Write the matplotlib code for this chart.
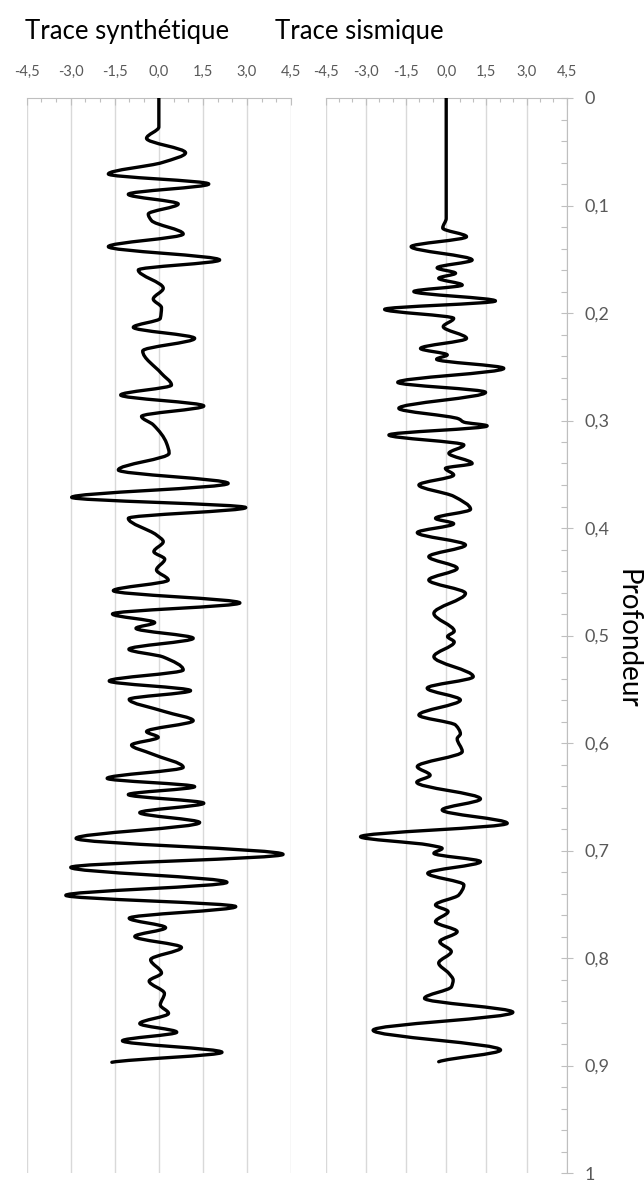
import numpy as np
import matplotlib
matplotlib.use("Agg")
import matplotlib.pyplot as plt
from matplotlib.path import Path
from matplotlib.patches import PathPatch
from matplotlib.ticker import MultipleLocator, FixedLocator, FuncFormatter

plt.rcParams['font.family'] = ['Lato', 'DejaVu Sans']

# ---- data (depth, amplitude at turning points) ----
synth_depth = [0.000, 0.027, 0.0375, 0.051, 0.060, 0.0707, 0.080, 0.0896, 0.0986, 0.108,
               0.114, 0.1265, 0.1383, 0.1507, 0.160, 0.177, 0.187, 0.195, 0.205, 0.2133,
               0.2236, 0.2353, 0.256, 0.267, 0.2763, 0.2865, 0.2962, 0.304, 0.321, 0.3305,
               0.346, 0.3585, 0.3715, 0.381, 0.391, 0.4065, 0.4127, 0.422, 0.429, 0.439,
               0.4484, 0.4583, 0.4697, 0.480, 0.488, 0.4933, 0.5026, 0.5128, 0.520, 0.532,
               0.5423, 0.5513, 0.5594, 0.5708, 0.5792, 0.5894, 0.5947, 0.6019, 0.610, 0.6226,
               0.6329, 0.6406, 0.648, 0.656, 0.6648, 0.674, 0.6887, 0.7036, 0.7157, 0.7296,
               0.7417, 0.7522, 0.763, 0.7718, 0.780, 0.7902, 0.8016, 0.814, 0.8215, 0.833,
               0.8437, 0.8515, 0.861, 0.869, 0.877, 0.8877, 0.897]
synth_amp = [0.00, 0.00, -0.42, 0.91, 0.12, -1.72, 1.70, -1.04, 0.66, -0.36,
             -0.25, 0.83, -1.72, 2.07, -0.70, 0.15, -0.19, 0.09, 0.05, -0.87,
             1.22, -0.55, 0.08, 0.43, -1.30, 1.53, -0.59, -0.19, 0.26, 0.35,
             -1.38, 2.36, -2.97, 2.96, -1.04, -0.08, 0.15, -0.17, 0.20, -0.08,
             0.32, -1.55, 2.76, -1.58, -0.14, -0.78, 1.17, -1.02, 0.15, 0.83,
             -1.69, 1.08, -1.01, 0.20, 1.17, -0.42, -0.02, -0.93, -0.25, 0.83,
             -1.76, 1.22, -1.04, 1.53, -0.65, 1.39, -2.82, 4.23, -3.00, 2.32,
             -3.17, 2.62, -1.01, 0.23, -0.82, 0.77, -0.28, 0.09, -0.33, 0.19,
             0.05, 0.33, -0.65, 0.61, -1.24, 2.15, -1.60]

seis_depth = [0.000, 0.112, 0.121, 0.129, 0.1383, 0.1507, 0.158, 0.163, 0.1677, 0.174,
              0.180, 0.1888, 0.1966, 0.205, 0.2127, 0.2236, 0.233, 0.239, 0.243, 0.2515,
              0.2645, 0.2738, 0.2887, 0.2985, 0.3015, 0.305, 0.3135, 0.3228, 0.3305, 0.340,
              0.3445, 0.3507, 0.360, 0.3705, 0.3826, 0.391, 0.396, 0.4043, 0.4158, 0.4267,
              0.4375, 0.4484, 0.4608, 0.4794, 0.496, 0.501, 0.506, 0.5197, 0.5383, 0.549,
              0.560, 0.574, 0.5833, 0.5915, 0.596, 0.608, 0.622, 0.630, 0.6365, 0.652,
              0.6623, 0.6747, 0.6872, 0.6949, 0.698, 0.7026, 0.7104, 0.7212, 0.732, 0.7414,
              0.7507, 0.7568, 0.7662, 0.7755, 0.7848, 0.794, 0.8047, 0.8143, 0.8205, 0.8267,
              0.8375, 0.8505, 0.8672, 0.8856, 0.8965]
seis_amp = [0.00, 0.00, -0.13, 0.76, -1.31, 0.97, -0.34, 0.35, -0.28, 0.60,
            -1.21, 1.84, -2.30, 0.28, -0.11, 0.76, -0.96, 0.04, -0.36, 2.15,
            -1.81, 1.47, -1.77, 0.47, 0.66, 1.53, -2.14, 0.66, 0.10, 0.97,
            -0.03, 0.28, -1.02, 0.28, 0.91, -0.40, 0.28, -1.08, 0.72, -0.65,
            0.41, -0.65, 0.72, -0.46, 0.30, 0.05, 0.30, -0.46, 1.01, -0.71,
            0.53, -1.02, 0.35, 0.53, 0.41, 0.60, -1.08, -0.60, -1.10, 1.28,
            -0.15, 2.28, -3.20, -0.65, -0.15, -0.46, 1.28, -0.69, 0.66, 0.47,
            -0.40, 0.07, -0.40, 0.41, -0.24, 0.19, -0.28, 0.10, 0.26, 0.20,
            -0.81, 2.49, -2.73, 2.03, -0.28]

amp_ticks = [-4.5, -3.0, -1.5, 0.0, 1.5, 3.0, 4.5]
depth_ticks = [0, 0.1, 0.2, 0.3, 0.4, 0.5, 0.6, 0.7, 0.8, 0.9, 1.0]
titles = ["Trace synthétique", "Trace sismique"]
depth_label = "Profondeur"


def smooth_path(depth, amp):
    """Excel-like smoothed line: monotone cubic (amp as a function of depth)
    expressed as Bezier segments through the read points."""
    d = np.asarray(depth, float)
    a = np.asarray(amp, float)
    h = np.diff(d)
    s = np.diff(a) / h
    n = len(d)
    m = np.zeros(n)
    for k in range(1, n - 1):
        if s[k - 1] * s[k] > 0:
            w1 = 2 * h[k] + h[k - 1]
            w2 = h[k] + 2 * h[k - 1]
            m[k] = (w1 + w2) / (w1 / s[k - 1] + w2 / s[k])
    m[0] = 0.0
    m[-1] = s[-1] * 0.5
    verts = [(a[0], d[0])]
    codes = [Path.MOVETO]
    for k in range(n - 1):
        verts += [(a[k] + m[k] * h[k] / 3, d[k] + h[k] / 3),
                  (a[k + 1] - m[k + 1] * h[k] / 3, d[k + 1] - h[k] / 3),
                  (a[k + 1], d[k + 1])]
        codes += [Path.CURVE4] * 3
    return Path(verts, codes)


def fmt(v, _):
    return f"{v:.1f}".replace(".", ",")


def fmt_depth(v, _):
    if abs(v) < 1e-9:
        return "0"
    if abs(v - 1) < 1e-9:
        return "1"
    return f"{v:.1f}".replace(".", ",")


W, H = 644, 1181
fig = plt.figure(figsize=(W / 100, H / 100), dpi=100)

top_px, bot_px = 98, 1173
b = (H - bot_px) / H
hgt = (bot_px - top_px) / H
ax1 = fig.add_axes([26.7 / W, b, (291 - 26.7) / W, hgt])
ax2 = fig.add_axes([325.7 / W, b, (566.7 - 325.7) / W, hgt])

grid_c = '#d9d9d9'
tick_c = '#bfbfbf'
lab_c = '#595959'

for ax, dep, amp in [(ax1, synth_depth, synth_amp), (ax2, seis_depth, seis_amp)]:
    ax.set_xlim(-4.5, 4.5)
    ax.set_ylim(1.0, 0.0)
    ax.patch.set_alpha(0)
    ax.add_patch(PathPatch(smooth_path(dep, amp), fill=False, edgecolor='black',
                           lw=2.4, capstyle='round', joinstyle='round', zorder=3))
    ax.xaxis.set_major_locator(FixedLocator(amp_ticks))
    ax.xaxis.set_minor_locator(MultipleLocator(0.5))
    ax.xaxis.set_major_formatter(FuncFormatter(fmt))
    ax.xaxis.tick_top()
    ax.tick_params(axis='x', which='major', direction='in', length=5, width=0.8,
                   color=tick_c, labelcolor=lab_c, labelsize=10.5, pad=14)
    ax.tick_params(axis='x', which='minor', direction='in', length=3, width=0.8, color=tick_c)
    ax.grid(True, axis='x', which='major', color=grid_c, lw=1.0, zorder=0)
    for sp in ['left', 'right', 'bottom']:
        ax.spines[sp].set_visible(False)
    ax.spines['top'].set_color(tick_c)
    ax.spines['top'].set_linewidth(0.8)

ax1.tick_params(axis='y', which='both', left=False, right=False, labelleft=False)

ax2.spines['right'].set_visible(True)
ax2.spines['right'].set_color(tick_c)
ax2.spines['right'].set_linewidth(0.8)
ax2.yaxis.tick_right()
ax2.yaxis.set_major_locator(FixedLocator(depth_ticks))
ax2.yaxis.set_minor_locator(MultipleLocator(0.02))
ax2.yaxis.set_major_formatter(FuncFormatter(fmt_depth))
ax2.tick_params(axis='y', which='major', direction='inout', length=9, width=0.8,
                color=tick_c, labelcolor=lab_c, labelsize=13, pad=8)
ax2.tick_params(axis='y', which='minor', direction='in', length=4.5, width=0.8, color=tick_c)

fig.text(127.5 / W, 1 - 32 / H, titles[0], ha='center', va='center', fontsize=18.5, color='black')
fig.text(359.5 / W, 1 - 32 / H, titles[1], ha='center', va='center', fontsize=18.5, color='black')
fig.text(627 / W, 1 - 639 / H, depth_label, ha='center', va='center', rotation=-90,
         fontsize=20, color='black')

fig.savefig("out.png", dpi=100)
